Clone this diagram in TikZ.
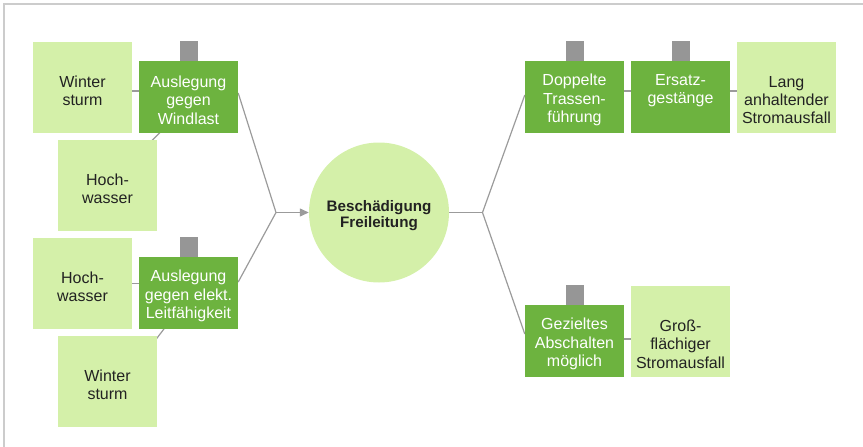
\documentclass[tikz,border=0pt]{standalone}
\usepackage{fontspec}
\setmainfont{Liberation Sans}
\usetikzlibrary{arrows.meta,backgrounds,calc}
\definecolor{dkgreen}{HTML}{6DB33F}
\definecolor{ltgreen}{HTML}{D4F0A9}
\definecolor{tabgray}{HTML}{969696}
\definecolor{linegray}{HTML}{9B9B9B}
\definecolor{framegray}{HTML}{CCCCCC}
\definecolor{txtdark}{HTML}{222222}
\begin{document}
\begin{tikzpicture}[x=1pt,y=-1pt,
  lightbox/.style={fill=ltgreen, minimum width=99pt, minimum height=91pt, inner sep=0pt},
  darkbox/.style={fill=dkgreen, minimum width=99pt, minimum height=72pt, inner sep=0pt},
  lbltxt/.style={inner sep=0pt, align=center, text=txtdark, font=\fontsize{16}{18.4}\selectfont},
  wtxt/.style={lbltxt, text=white},
  tabbox/.style={fill=tabgray, minimum width=18pt, minimum height=20pt, inner sep=0pt, anchor=south},
  conn/.style={draw=linegray, line width=1.2pt},
  hub/.style={circle, fill=ltgreen, minimum size=140pt, inner sep=0pt},
  hubtxt/.style={inner sep=0pt, align=center, text=txtdark, font=\bfseries\fontsize{15.2}{15.5}\selectfont}]
\useasboundingbox (0,0) rectangle (863,447);
\draw[framegray, line width=1.5pt] (4,447) -- (4,4) -- (863,4);

% left side
\node[lightbox] (w1) at (82.5,87.5) {};
\node[lbltxt] (w1t) at ($(w1.center)+(0,3)$) {Winter\\sturm};
\node[lightbox] (h1) at (107.5,185.5) {};
\node[lbltxt] (h1t) at ($(h1.center)+(0,3)$) {Hoch-\\wasser};
\node[darkbox] (a1) at (188.5,97) {};
\node[wtxt] (a1t) at ($(a1.center)+(0,3)$) {Auslegung\\gegen\\Windlast};
\node[tabbox] (t1) at (a1.north) {};

\node[lightbox] (h2) at (82.5,283.5) {};
\node[lbltxt] (h2t) at ($(h2.center)+(0,3)$) {Hoch-\\wasser};
\node[lightbox] (w2) at (107.5,381.5) {};
\node[lbltxt] (w2t) at ($(w2.center)+(0,3)$) {Winter\\sturm};
\node[darkbox] (a2) at (188.5,293) {};
\node[wtxt] (a2t) at ($(a2.center)+(0,3)$) {Auslegung\\gegen elekt.\\Leitfähigkeit};
\node[tabbox] (t2) at (a2.north) {};

% centre
\node[hub] (c) at (379,212.5) {};
\node[hubtxt] (ct) at ($(c.center)+(0,3)$) {Beschädigung\\Freileitung};
\coordinate (j1) at (276,212.5);
\coordinate (j2) at (482.5,212.5);

% right side
\node[darkbox] (d1) at (574.5,97) {};
\node[wtxt] (d1t) at ($(d1.center)+(0,3)$) {Doppelte\\Trassen-\\führung};
\node[tabbox] (t3) at (d1.north) {};
\node[darkbox] (e1) at (680.5,97) {};
\node[wtxt, anchor=north] (e1t) at (d1t.north -| e1.center) {Ersatz-\\gestänge};
\node[tabbox] (t4) at (e1.north) {};
\node[lightbox] (lang) at (786.5,87.5) {};
\node[lbltxt] (langt) at (d1t.center -| lang.center) {Lang\\anhaltender\\Stromausfall};

\node[darkbox] (g1) at (574.5,341) {};
\node[wtxt] (g1t) at ($(g1.center)+(0,3)$) {Gezieltes\\Abschalten\\möglich};
\node[tabbox] (t5) at (g1.north) {};
\node[lightbox] (gross) at (680.5,331.5) {};
\node[lbltxt] (grosst) at (g1t.center -| gross.center) {Groß-\\flächiger\\Stromausfall};

\begin{scope}[on background layer]
  \draw[conn] ($(w1.east)+(0,3.5)$) -- ($(a1.west)+(0,-6)$);
  \draw[conn] ($(h1.north east)+(-7.5,3)$) -- ($(a1.south west)+(23.5,-3)$);
  \draw[conn] (h2.east) -- (h2.east -| a2.west);
  \draw[conn] ($(w2.north east)+(-1.5,4)$) -- ($(a2.south west)+(26.5,-2)$);
  \draw[conn] ($(a1.east)+(0,-4)$) -- (j1);
  \draw[conn] ($(a2.east)+(0,-11)$) -- (j1);
  \draw[conn] (c.east) -- (j2);
  \draw[conn] (j2) -- ($(d1.west)+(0,-2)$);
  \draw[conn] (j2) -- ($(g1.west)+(0,-7)$);
  \draw[conn] ($(d1.center)+(0,-6)$) -- ($(lang.center)+(0,3.5)$);
  \draw[conn] ($(g1.center)+(0,-2)$) -- ($(gross.center)+(0,7.5)$);
\end{scope}
\draw[conn, -{Triangle[length=9pt,width=8pt]}] (j1) -- (c.west);
\end{tikzpicture}
\end{document}
